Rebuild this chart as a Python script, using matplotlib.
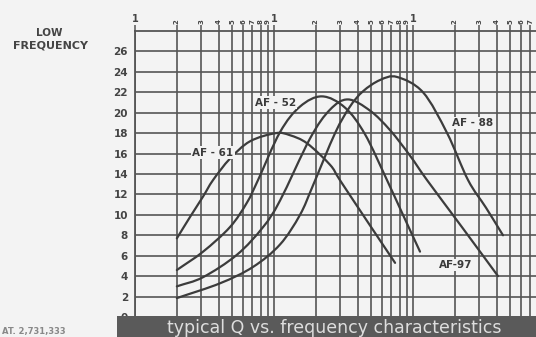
import numpy as np
import matplotlib
matplotlib.use("Agg")
import matplotlib.pyplot as plt
from matplotlib.patches import Rectangle, PathPatch
from matplotlib.path import Path

# ---- data ----
af61_f = [2.0, 2.49, 3.09, 3.64, 4.82, 6.72, 10.3, 13.0, 17.3, 25.3, 29.8, 46.7, 74.3]
af61_q = [7.7, 9.8, 11.8, 13.4, 15.5, 17.2, 18.0, 17.8, 17.0, 14.9, 13.4, 9.4, 5.3]

af52_f = [2.0, 3.09, 4.82, 6.39, 7.67, 11.05, 15.38, 22.15, 32.4, 45.1, 65.0, 84.7, 112.3]
af52_q = [4.6, 6.4, 8.8, 11.2, 13.4, 18.1, 20.6, 21.6, 20.5, 17.9, 13.4, 10.0, 6.4]

af97_f = [2.0, 3.09, 5.42, 8.34, 11.05, 18.2, 25.3, 34.1, 49.1, 68.3, 95.1, 126.2, 225, 409]
af97_q = [3.0, 3.9, 6.1, 8.8, 11.4, 17.5, 20.3, 21.3, 20.2, 18.3, 15.8, 13.4, 8.8, 4.0]

af88_f = [2.0, 4.09, 7.06, 11.05, 15.38, 19.1, 27.5, 35.2, 43.7, 57.9, 76.7, 118, 176, 249, 335, 444]
af88_q = [1.85, 3.3, 4.9, 7.1, 10.0, 12.9, 18.0, 20.6, 22.1, 23.2, 23.5, 22.0, 18.0, 13.4, 10.7, 8.0]

curve_labels = ["AF - 61", "AF - 52", "AF-97", "AF - 88"]
label_f = [3.64, 10.2, 204, 266]
label_q = [16.1, 21.0, 5.1, 19.0]

y_ticks = [0, 2, 4, 6, 8, 10, 12, 14, 16, 18, 20, 22, 24, 26]
x_ticks = [m * 10 ** d for d in range(3) for m in range(1, 10) if m * 10 ** d <= 700]
x_tick_labels = [str(m) for d in range(3) for m in range(1, 10) if m * 10 ** d <= 700]
title_text = "typical Q vs. frequency characteristics"

# ---- figure ----
W, H = 536, 337
bg = "#f3f3f3"
fig = plt.figure(figsize=(W / 100, H / 100), dpi=100, facecolor=bg)
ax = fig.add_axes([135 / W, (H - 317) / H, (W - 135) / W, (317 - 31) / H])
ax.set_facecolor(bg)
ax.set_xscale("log")
ax.set_xlim(1, 767)
ax.set_ylim(0, 28)

gc = "#555555"
ax.set_xticks(x_ticks)
ax.set_xticklabels(x_tick_labels)
ax.xaxis.set_minor_locator(matplotlib.ticker.NullLocator())
ax.xaxis.tick_top()
ax.tick_params(axis="x", which="major", direction="out", length=4.5, width=1.1,
               color=gc, pad=0.5, labelsize=5, labelcolor="#444444")
for lab, txt in zip(ax.get_xticklabels(), x_tick_labels):
    lab.set_fontweight("bold")
    if txt == "1":
        lab.set_fontsize(7)
        lab.set_rotation(0)
    else:
        lab.set_rotation(90)

ax.set_yticks(y_ticks)
ax.set_yticklabels([str(v) for v in y_ticks])
ax.tick_params(axis="y", length=0, pad=5, labelsize=7.5, labelcolor="#444444")
for lab in ax.get_yticklabels():
    lab.set_fontweight("bold")

ax.grid(True, which="major", color=gc, linewidth=1.2)
ax.set_axisbelow(True)
for s in ["right", "bottom"]:
    ax.spines[s].set_visible(False)
for s in ["left", "top"]:
    ax.spines[s].set_color(gc)
    ax.spines[s].set_linewidth(1.3)


def smooth_path(f, q):
    """Catmull-Rom curve through the read points, drawn as cubic Beziers in log-x space."""
    lx = np.log10(np.asarray(f, float))
    y = np.asarray(q, float)
    px = np.concatenate([[2 * lx[0] - lx[1]], lx, [2 * lx[-1] - lx[-2]]])
    py = np.concatenate([[2 * y[0] - y[1]], y, [2 * y[-1] - y[-2]]])
    verts = [(lx[0], y[0])]
    codes = [Path.MOVETO]
    for i in range(1, len(px) - 2):
        c1 = (px[i] + (px[i + 1] - px[i - 1]) / 6, py[i] + (py[i + 1] - py[i - 1]) / 6)
        c2 = (px[i + 1] - (px[i + 2] - px[i]) / 6, py[i + 1] - (py[i + 2] - py[i]) / 6)
        verts += [c1, c2, (px[i + 1], py[i + 1])]
        codes += [Path.CURVE4] * 3
    verts = [(10 ** vx, vy) for vx, vy in verts]
    return Path(verts, codes)


cc = "#3c3c3c"
for f, q in [(af61_f, af61_q), (af52_f, af52_q), (af97_f, af97_q), (af88_f, af88_q)]:
    ax.add_patch(PathPatch(smooth_path(f, q), facecolor="none", edgecolor=cc,
                           linewidth=1.6, capstyle="round", zorder=3))

for name, x, y in zip(curve_labels, label_f, label_q):
    ax.text(x, y, name, ha="center", va="center", fontsize=7.5, fontweight="bold",
            color="#3a3a3a", zorder=4,
            bbox=dict(boxstyle="square,pad=0.12", fc=bg, ec="none"))

# header text
fig.text(49 / W, 1 - 33 / H, "LOW", ha="center", va="center", fontsize=7.5,
         fontweight="bold", color="#444444")
fig.text(50 / W, 1 - 46 / H, "FREQUENCY", ha="center", va="center", fontsize=8,
         fontweight="bold", color="#444444")

# bottom band with caption
band = Rectangle((117 / W, 0), (W - 117) / W, (H - 316) / H, transform=fig.transFigure,
                 facecolor="#5a5a5a", edgecolor="none", zorder=10)
fig.add_artist(band)
fig.text(334 / W, (H - 328) / H, title_text, ha="center", va="center", fontsize=12.5,
         color="#dedede", zorder=11)

fig.text(2 / W, 1 / H, "AT. 2,731,333", ha="left", va="bottom", fontsize=6,
         fontweight="bold", color="#888888")

fig.savefig("out.png", dpi=100, facecolor=bg)
